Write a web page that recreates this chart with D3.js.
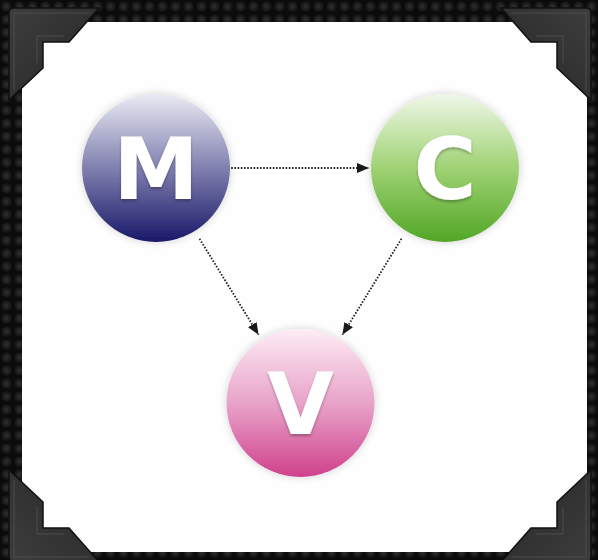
<!DOCTYPE html>
<html>
<head>
<meta charset="utf-8">
<script src="https://cdn.jsdelivr.net/npm/d3@7.9.0/dist/d3.min.js"></script>
<style>
  html, body { margin: 0; padding: 0; background: #0c0c0c; }
  svg { display: block; }
</style>
</head>
<body>
<svg id="mvc" width="598" height="560"></svg>
<script>
// diagram data: the three parts of MVC and who talks to whom
const labels = ['M', 'C', 'V'];
const names = ['Model', 'Controller', 'View'];
const cols = [0, 2, 1];   // slot on a 3-wide grid
const rows = [0, 0, 1];   // slot on a 2-high grid
const links = [['M', 'C'], ['M', 'V'], ['C', 'V']];
const palette = {
  M: ['#ebebf4', '#8080b0', '#181868'],
  C: ['#f0f7e8', '#9fd274', '#52a626'],
  V: ['#fdecf5', '#e8a3c9', '#cf418c']
};

const W = 598, H = 560;
const R = 74;
const svg = d3.select('#mvc');
const defs = svg.append('defs');

// dark perforated backdrop
const dotGrad = defs.append('radialGradient').attr('id', 'dot');
dotGrad.append('stop').attr('offset', '0%').attr('stop-color', '#303030');
dotGrad.append('stop').attr('offset', '60%').attr('stop-color', '#1c1c1c');
dotGrad.append('stop').attr('offset', '100%').attr('stop-color', '#0b0b0b');
const pat = defs.append('pattern')
  .attr('id', 'holes')
  .attr('width', 13).attr('height', 13)
  .attr('patternUnits', 'userSpaceOnUse');
pat.append('rect').attr('width', 13).attr('height', 13).attr('fill', '#0b0b0b');
pat.append('circle').attr('cx', 6.5).attr('cy', 6.5).attr('r', 6).attr('fill', 'url(#dot)');

svg.append('rect').attr('width', W).attr('height', H).attr('fill', 'url(#holes)');

// the white card
svg.append('rect')
  .attr('x', 22).attr('y', 22)
  .attr('width', 565).attr('height', 530)
  .attr('fill', '#fefefe');

// soft shadow for the balls
const sh = defs.append('filter').attr('id', 'soft')
  .attr('x', '-30%').attr('y', '-30%').attr('width', '160%').attr('height', '160%');
sh.append('feGaussianBlur').attr('in', 'SourceAlpha').attr('stdDeviation', 4).attr('result', 'b');
sh.append('feOffset').attr('in', 'b').attr('dy', 0).attr('result', 'o');
sh.append('feComponentTransfer').attr('in', 'o').attr('result', 's')
  .append('feFuncA').attr('type', 'linear').attr('slope', 0.18);
const shm = sh.append('feMerge');
shm.append('feMergeNode').attr('in', 's');
shm.append('feMergeNode').attr('in', 'SourceGraphic');

const ts = defs.append('filter').attr('id', 'txtsh')
  .attr('x', '-20%').attr('y', '-20%').attr('width', '140%').attr('height', '140%');
ts.append('feGaussianBlur').attr('in', 'SourceAlpha').attr('stdDeviation', 1.5).attr('result', 'b');
ts.append('feOffset').attr('in', 'b').attr('dy', 1.5).attr('result', 'o');
ts.append('feComponentTransfer').attr('in', 'o').attr('result', 's')
  .append('feFuncA').attr('type', 'linear').attr('slope', 0.3);
const tsm = ts.append('feMerge');
tsm.append('feMergeNode').attr('in', 's');
tsm.append('feMergeNode').attr('in', 'SourceGraphic');

labels.forEach(k => {
  const g = defs.append('linearGradient').attr('id', 'g' + k)
    .attr('x1', 0).attr('y1', 0).attr('x2', 0).attr('y2', 1);
  g.append('stop').attr('offset', '0%').attr('stop-color', palette[k][0]);
  g.append('stop').attr('offset', '50%').attr('stop-color', palette[k][1]);
  g.append('stop').attr('offset', '100%').attr('stop-color', palette[k][2]);
});

// arrowhead
defs.append('marker')
  .attr('id', 'head')
  .attr('viewBox', '0 0 12 10')
  .attr('refX', 12).attr('refY', 5)
  .attr('markerWidth', 12).attr('markerHeight', 10)
  .attr('markerUnits', 'userSpaceOnUse')
  .attr('orient', 'auto')
  .append('path')
  .attr('d', 'M0,0L12,5L0,10Z')
  .attr('fill', '#1a1a1a');

const x = d3.scaleLinear().domain([0, 2]).range([156, 445]);
const y = d3.scaleLinear().domain([0, 1]).range([168, 403]);

const nodes = labels.map((k, i) => ({ key: k, name: names[i], x: x(cols[i]), y: y(rows[i]) }));
const byKey = Object.fromEntries(nodes.map(n => [n.key, n]));

// dotted arrows
svg.append('g')
  .selectAll('line')
  .data(links)
  .join('line')
  .each(function ([s, t]) {
    const a = byKey[s], b = byKey[t];
    const dx = b.x - a.x, dy = b.y - a.y;
    const len = Math.hypot(dx, dy);
    const ux = dx / len, uy = dy / len;
    const flat = Math.abs(dy) < 1;
    const p0 = flat ? R - 2 : R + 9;
    const p1 = flat ? R + 2 : R + 6;
    d3.select(this)
      .attr('x1', a.x + ux * p0).attr('y1', a.y + uy * p0)
      .attr('x2', b.x - ux * p1).attr('y2', b.y - uy * p1);
  })
  .attr('stroke', '#222')
  .attr('stroke-width', 1.8)
  .attr('stroke-dasharray', '1.6,1.6')
  .attr('marker-end', 'url(#head)');

// the balls
const ball = svg.append('g')
  .selectAll('g')
  .data(nodes)
  .join('g')
  .attr('transform', d => `translate(${d.x},${d.y})`);

ball.append('circle')
  .attr('r', R)
  .attr('fill', d => `url(#g${d.key})`)
  .attr('filter', 'url(#soft)');

ball.append('text')
  .attr('text-anchor', 'middle')
  .attr('y', 31)
  .attr('font-family', 'DejaVu Sans, sans-serif')
  .attr('font-weight', 'bold')
  .attr('font-size', 86)
  .attr('fill', '#fff')
  .attr('filter', 'url(#txtsh)')
  .text(d => d.key);

// corner brackets holding the card
const bracket = 'M0,5Q0,0 5,0L90,0L60,34L34,34L34,60L0,92Z';
const bevel = 'M5,5L80,5M5,5L5,82M28,28L55,28M28,28L28,55';
const bg = defs.append('linearGradient').attr('id', 'metal')
  .attr('x1', 0).attr('y1', 0).attr('x2', 1).attr('y2', 1);
bg.append('stop').attr('offset', '0%').attr('stop-color', '#3d3d3d');
bg.append('stop').attr('offset', '100%').attr('stop-color', '#262626');

const corners = [
  [9, 8, 1, 1],
  [591, 8, -1, 1],
  [9, 562, 1, -1],
  [591, 562, -1, -1]
];
const cg = svg.append('g')
  .selectAll('g')
  .data(corners)
  .join('g')
  .attr('transform', d => `translate(${d[0]},${d[1]}) scale(${d[2]},${d[3]})`);
cg.append('path')
  .attr('d', bracket)
  .attr('fill', 'url(#metal)')
  .attr('stroke', '#111')
  .attr('stroke-width', 1.5);
cg.append('path')
  .attr('d', bevel)
  .attr('stroke', '#4c4c4c')
  .attr('stroke-width', 1)
  .attr('fill', 'none');
</script>
</body>
</html>
